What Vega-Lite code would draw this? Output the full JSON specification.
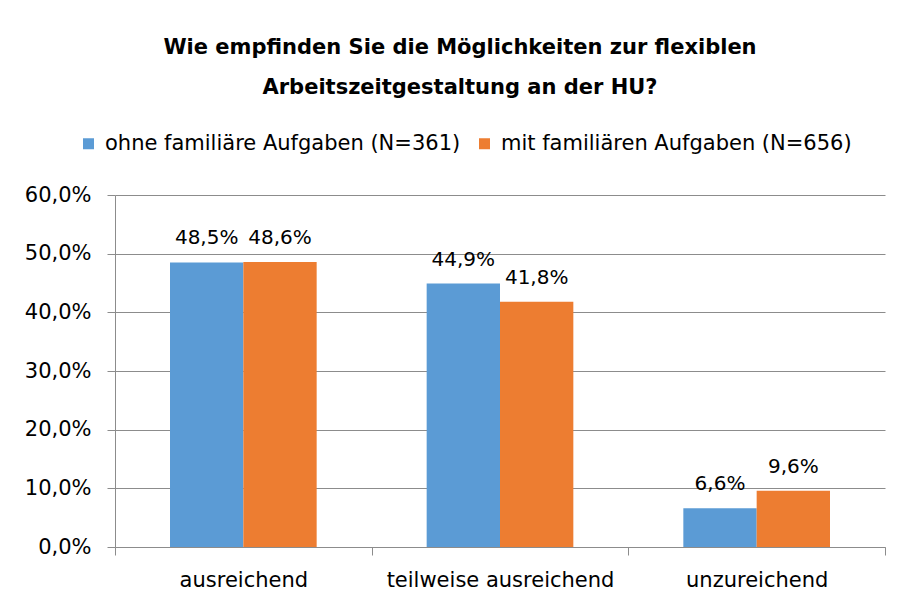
{
  "$schema": "https://vega.github.io/schema/vega-lite/v6.json",
  "width": 770,
  "height": 352,
  "autosize": {"type": "none"},
  "padding": {"left": 115, "top": 195, "right": 16, "bottom": 59},
  "background": "white",
  "title": {
    "text": ["Wie empfinden Sie die Möglichkeiten zur flexiblen", "Arbeitszeitgestaltung an der HU?"],
    "anchor": "middle",
    "frame": "group",
    "dx": -40,
    "fontSize": 21,
    "fontWeight": "bold",
    "lineHeight": 40,
    "color": "#000000",
    "offset": 35
  },
  "data": {
    "values": [
      {"kategorie": "ausreichend", "gruppe": "ohne familiäre Aufgaben (N=361)", "anteil": 0.485},
      {"kategorie": "ausreichend", "gruppe": "mit familiären Aufgaben (N=656)", "anteil": 0.486},
      {"kategorie": "teilweise ausreichend", "gruppe": "ohne familiäre Aufgaben (N=361)", "anteil": 0.449},
      {"kategorie": "teilweise ausreichend", "gruppe": "mit familiären Aufgaben (N=656)", "anteil": 0.418},
      {"kategorie": "unzureichend", "gruppe": "ohne familiäre Aufgaben (N=361)", "anteil": 0.066},
      {"kategorie": "unzureichend", "gruppe": "mit familiären Aufgaben (N=656)", "anteil": 0.096}
    ]
  },
  "encoding": {
    "x": {
      "field": "kategorie",
      "type": "nominal",
      "sort": ["ausreichend", "teilweise ausreichend", "unzureichend"],
      "scale": {"paddingInner": 0, "paddingOuter": 0},
      "axis": {
        "title": null,
        "labelAngle": 0,
        "tickBand": "extent",
        "tickSize": 8,
        "labelPadding": 14,
        "labelLimit": 400,
        "grid": false
      }
    },
    "xOffset": {
      "field": "gruppe",
      "type": "nominal",
      "sort": ["ohne familiäre Aufgaben (N=361)", "mit familiären Aufgaben (N=656)"],
      "scale": {"paddingInner": 0, "paddingOuter": 0.75}
    },
    "y": {
      "field": "anteil",
      "type": "quantitative",
      "scale": {"domain": [0, 0.6], "nice": false},
      "axis": {
        "title": null,
        "format": ".1%",
        "values": [0, 0.1, 0.2, 0.3, 0.4, 0.5, 0.6],
        "tickSize": 8,
        "labelPadding": 16,
        "grid": true
      }
    }
  },
  "layer": [
    {
      "mark": {"type": "bar"},
      "encoding": {
        "color": {
          "field": "gruppe",
          "type": "nominal",
          "sort": ["ohne familiäre Aufgaben (N=361)", "mit familiären Aufgaben (N=656)"],
          "scale": {"range": ["#5B9BD5", "#ED7D31"]},
          "legend": {
            "title": null,
            "orient": "none",
            "legendX": -37,
            "legendY": -62,
            "direction": "horizontal",
            "symbolType": "square",
            "symbolSize": 121,
            "symbolStrokeWidth": 0,
            "labelFontSize": 21,
            "labelColor": "#000000",
            "labelOffset": 6,
            "columnPadding": 13,
            "labelLimit": 500
          }
        }
      }
    },
    {
      "mark": {"type": "text", "dy": -18, "baseline": "alphabetic", "fontSize": 20, "color": "#000000"},
      "encoding": {
        "text": {"field": "anteil", "type": "quantitative", "format": ".1%"}
      }
    }
  ],
  "config": {
    "locale": {
      "number": {"decimal": ",", "thousands": ".", "grouping": [3], "currency": ["", " €"]}
    },
    "font": "DejaVu Sans",
    "view": {"stroke": null},
    "axis": {
      "labelFontSize": 21,
      "labelColor": "#000000",
      "domainColor": "#8C8C8C",
      "tickColor": "#8C8C8C",
      "gridColor": "#8C8C8C",
      "gridOpacity": 1,
      "domainWidth": 1,
      "tickWidth": 1,
      "gridWidth": 1
    }
  }
}
